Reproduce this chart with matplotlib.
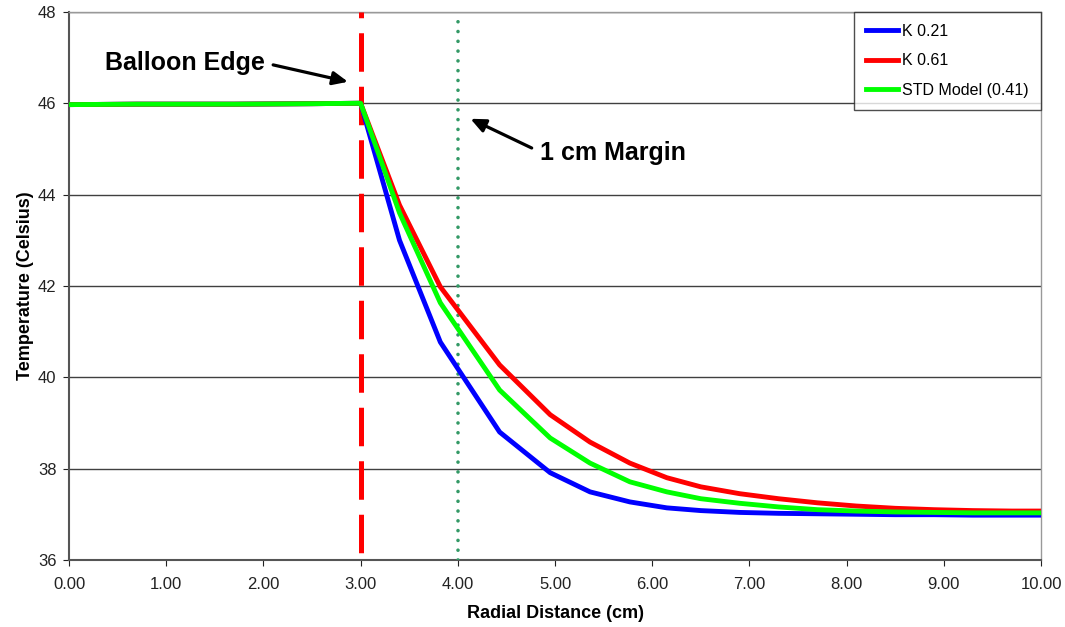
import numpy as np
import matplotlib.pyplot as plt
from matplotlib.ticker import FormatStrFormatter

plt.rcParams['font.family'] = ['Liberation Sans', 'DejaVu Sans']

# radial distance nodes (cm)
r = [0.0, 0.7, 1.7, 2.5, 3.0, 3.4, 3.82, 4.43, 4.95, 5.36, 5.77, 6.15, 6.5,
     6.9, 7.3, 7.7, 8.1, 8.5, 8.9, 9.3, 9.7, 10.0]

k021 = [45.97, 45.98, 45.98, 45.99, 46.0, 43.0, 40.77, 38.80, 37.91, 37.49,
        37.27, 37.14, 37.08, 37.04, 37.02, 37.01, 37.0, 36.99, 36.99, 36.98,
        36.98, 36.98]
k061 = [45.97, 45.98, 45.98, 45.99, 46.0, 43.77, 41.98, 40.27, 39.18, 38.58,
        38.12, 37.80, 37.60, 37.45, 37.34, 37.25, 37.18, 37.13, 37.10, 37.08,
        37.07, 37.07]
std = [45.97, 45.98, 45.98, 45.99, 46.0, 43.6, 41.63, 39.72, 38.67, 38.12,
       37.71, 37.49, 37.34, 37.24, 37.16, 37.10, 37.07, 37.05, 37.04, 37.03,
       37.03, 37.03]

balloon_edge = 3.0
margin = 4.0

fig = plt.figure(figsize=(10.65, 6.27), dpi=100)
ax = fig.add_axes([0.0648, 0.107, 0.9127, 0.874])

# vertical marker lines, drawn bottom to top
ax.plot([balloon_edge, balloon_edge], [36, 48], color='#ff0000', lw=3.6,
        ls=(9.25, (7.7, 3.0)), dash_capstyle='butt', zorder=3, clip_on=False)
ax.plot([margin, margin], [36, 48], color='#339966', lw=2.6,
        ls=(0, (0.01, 2.7)), dash_capstyle='round', zorder=3)

ax.plot(r, k021, color='#0000ff', lw=3.5, label='K 0.21', zorder=4)
ax.plot(r, k061, color='#ff0000', lw=3.5, label='K 0.61', zorder=4)
ax.plot(r, std, color='#00ff00', lw=3.5, label='STD Model (0.41)', zorder=5)

ax.set_xlim(0, 10)
ax.set_ylim(36, 48)
ax.set_xticks(np.arange(0, 11, 1))
ax.set_yticks(np.arange(36, 49, 2))
ax.xaxis.set_major_formatter(FormatStrFormatter('%.2f'))
ax.yaxis.grid(True, color='#404040', lw=1)
ax.set_axisbelow(True)
ax.tick_params(direction='out', length=4, labelsize=12, colors='#222222')
ax.tick_params(axis='x', pad=8)
ax.tick_params(axis='y', pad=5)

for s in ['left', 'bottom']:
    ax.spines[s].set_color('#555555')
    ax.spines[s].set_linewidth(1.5)
for s in ['top', 'right']:
    ax.spines[s].set_color('#999999')
    ax.spines[s].set_linewidth(1)

ax.set_xlabel('Radial Distance (cm)', fontsize=13, fontweight='bold', labelpad=10)
ax.set_ylabel('Temperature (Celsius)', fontsize=13, fontweight='bold', labelpad=3)

arrow = dict(arrowstyle='-|>,head_length=0.9,head_width=0.4', color='black',
             lw=2.3, shrinkA=0, shrinkB=0)
ax.text(2.02, 46.88, 'Balloon Edge', fontsize=18, fontweight='bold',
        ha='right', va='center')
ax.annotate('', xy=(2.87, 46.47), xytext=(2.10, 46.84), arrowprops=arrow)
ax.text(4.85, 44.91, '1 cm Margin', fontsize=18, fontweight='bold',
        ha='left', va='center')
ax.annotate('', xy=(4.13, 45.66), xytext=(4.76, 45.02), arrowprops=arrow)

leg = ax.legend(loc='upper right', fontsize=11.5, handlelength=2.0,
                handletextpad=0.3, labelspacing=0.9, borderaxespad=0,
                fancybox=False, edgecolor='#222222', borderpad=0.75)
leg.get_frame().set_linewidth(1)

fig.savefig('out.png', dpi=100)
